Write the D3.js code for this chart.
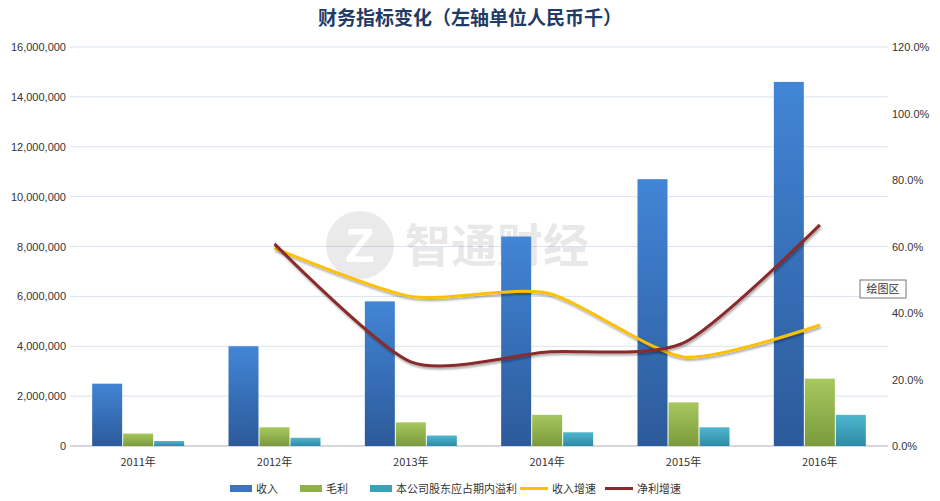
<!DOCTYPE html><html><head><meta charset="utf-8">
<script src="https://cdn.jsdelivr.net/npm/d3@7"></script>
<style>body{margin:0;background:#fff}</style></head><body><svg id="c" width="940" height="501"></svg>
<script>
const years=["2011年","2012年","2013年","2014年","2015年","2016年"];
const revenue=[2500000,4000000,5800000,8400000,10700000,14600000];
const gross=[500000,750000,950000,1250000,1750000,2700000];
const netProfit=[200000,330000,420000,550000,750000,1250000];
const revGrowth=[null,0.595,0.45,0.46,0.268,0.364];
const netGrowth=[null,0.608,0.253,0.283,0.31,0.665];
const leftTicks=[0,2000000,4000000,6000000,8000000,10000000,12000000,14000000,16000000];
const rightTicks=[0,0.2,0.4,0.6,0.8,1.0,1.2];
const svg=d3.select("#c");
const L=70,R=888,T=47,B=446;
const x=d3.scaleBand().domain(years).range([L,R]);
const yl=d3.scaleLinear().domain([0,16000000]).range([B,T]);
const yr=d3.scaleLinear().domain([0,1.2]).range([B,T]);
const defs=svg.append("defs");
function grad(id,a,b){const g=defs.append("linearGradient").attr("id",id).attr("x1",0).attr("x2",0).attr("y1",0).attr("y2",1);
g.append("stop").attr("offset",0).attr("stop-color",a);g.append("stop").attr("offset",1).attr("stop-color",b);}
grad("gb","#4285d6","#2c5a9a");grad("gg","#a6c85e","#7b9a3c");grad("gt","#4fb6d0","#2e8aa4");
defs.append("filter").attr("id","sh").append("feDropShadow").attr("dx",1).attr("dy",2).attr("stdDeviation",1.2).attr("flood-color","#000").attr("flood-opacity",0.35);
svg.append("text").attr("x",470).attr("y",25).attr("text-anchor","middle").attr("font-family","Noto Sans CJK SC").attr("font-weight","bold").attr("font-size",19).attr("fill","#1f3b66").text("财务指标变化（左轴单位人民币千）");
svg.append("g").selectAll("line").data(leftTicks).join("line").attr("x1",L).attr("x2",R).attr("y1",d=>yl(d)).attr("y2",d=>yl(d)).attr("stroke","#d9e3ee");
svg.append("line").attr("x1",L).attr("x2",R).attr("y1",B).attr("y2",B).attr("stroke","#bfbfbf");
svg.append("g").selectAll("text").data(leftTicks).join("text").attr("x",L-4).attr("y",d=>yl(d)+4).attr("text-anchor","end").attr("font-family","Liberation Sans").attr("font-size",11).attr("fill","#333").text(d=>d3.format(",")(d));
svg.append("g").selectAll("text").data(rightTicks).join("text").attr("x",R+4).attr("y",d=>yr(d)+4).attr("font-family","Liberation Sans").attr("font-size",11).attr("fill","#333").text(d=>(d*100).toFixed(1)+"%");
svg.append("g").selectAll("text").data(years).join("text").attr("x",d=>x(d)+x.bandwidth()/2).attr("y",466).attr("text-anchor","middle").attr("font-family","Noto Sans CJK SC").attr("font-size",11).attr("fill","#333").text(d=>d);
// watermark
const wm=svg.append("g").attr("opacity",0.13);
wm.append("circle").attr("cx",360).attr("cy",245).attr("r",34).attr("fill","#666");
wm.append("text").attr("x",360).attr("y",262).attr("text-anchor","middle").attr("font-family","Liberation Sans").attr("font-weight","bold").attr("font-size",48).attr("fill","#fff").text("Z");
wm.append("text").attr("x",405).attr("y",262).attr("font-family","Noto Sans CJK SC").attr("font-weight","bold").attr("font-size",46).attr("fill","#555").text("智通财经");
const bw=30, off=[-46,-15,16];
[[revenue,"url(#gb)"],[gross,"url(#gg)"],[netProfit,"url(#gt)"]].forEach(([arr,f],k)=>{
svg.append("g").selectAll("rect").data(arr).join("rect").attr("x",(d,i)=>x(years[i])+x.bandwidth()/2+off[k]).attr("width",bw).attr("y",d=>yl(d)).attr("height",d=>B-yl(d)).attr("fill",f);});
const line=d3.line().defined(d=>d[1]!=null).x(d=>x(d[0])+x.bandwidth()/2).y(d=>yr(d[1])).curve(d3.curveCardinal.tension(0.3));
[[revGrowth,"#ffc000"],[netGrowth,"#8b2b2b"]].forEach(([a,c])=>{
svg.append("path").datum(years.map((y,i)=>[y,a[i]]).filter(d=>d[1]!=null)).attr("d",line).attr("fill","none").attr("stroke",c).attr("stroke-width",3).attr("filter","url(#sh)");});
// tooltip
svg.append("rect").attr("x",860).attr("y",280).attr("width",46).attr("height",18).attr("fill","#fff").attr("stroke","#777");
svg.append("text").attr("x",883).attr("y",293).attr("text-anchor","middle").attr("font-family","Noto Sans CJK SC").attr("font-size",11).attr("fill","#333").text("绘图区");
// legend
const leg=[["收入","rect","#3a75c4",230],["毛利","rect","#8fb04a",300],["本公司股东应占期内溢利","rect","#3da0ba",370],["收入增速","line","#ffc000",520],["净利增速","line","#8b2b2b",605]];
leg.forEach(([t,s,c,lx])=>{const g=svg.append("g");
if(s=="rect")g.append("rect").attr("x",lx).attr("y",485).attr("width",22).attr("height",7).attr("fill",c);
else g.append("line").attr("x1",lx).attr("x2",lx+28).attr("y1",488.5).attr("y2",488.5).attr("stroke",c).attr("stroke-width",3);
g.append("text").attr("x",lx+(s=="rect"?26:32)).attr("y",493).attr("font-family","Noto Sans CJK SC").attr("font-size",11).attr("fill","#333").text(t);});
</script></body></html>
